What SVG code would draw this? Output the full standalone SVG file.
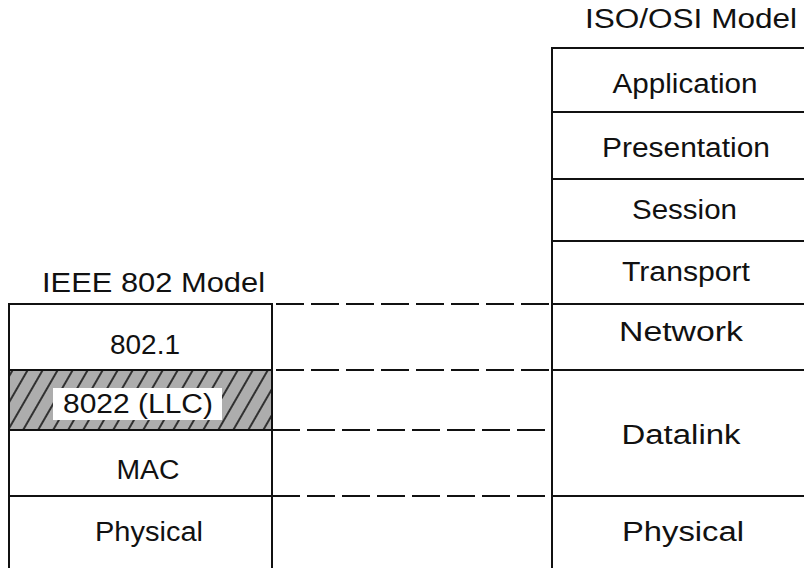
<svg xmlns="http://www.w3.org/2000/svg" width="804" height="568" viewBox="0 0 804 568">
  <style>
    text { font-family: "Liberation Sans", Arial, Helvetica, sans-serif; font-size: 27px; fill: #111; text-anchor: middle; }
    .box { stroke: #111; stroke-width: 2; fill: none; }
    .dash { stroke: #111; stroke-width: 2.2; stroke-dasharray: 28 7; fill: none; }
  </style>
  <defs>
    <pattern id="hatch" patternUnits="userSpaceOnUse" width="13" height="14" patternTransform="rotate(30)">
      <rect width="13" height="14" fill="#adadad"/>
      <line x1="1" y1="0" x2="1" y2="14" stroke="#111" stroke-width="1.6"/>
    </pattern>
  </defs>
  <rect width="804" height="568" fill="#fff"/>

  <g id="titles">
    <text x="691" y="28" textLength="212" lengthAdjust="spacingAndGlyphs">ISO/OSI Model</text>
    <text x="153.5" y="292" textLength="223" lengthAdjust="spacingAndGlyphs">IEEE 802 Model</text>
  </g>

  <g id="osi">
    <path class="box" d="M552,568 V48 H804 M552,112 H804 M552,179 H804 M552,241 H804 M552,304 H804 M552,370 H804 M552,496 H804"/>
    <g id="osi-application"><text x="685" y="93" textLength="145" lengthAdjust="spacingAndGlyphs">Application</text></g>
    <g id="osi-presentation"><text x="686" y="157" textLength="168" lengthAdjust="spacingAndGlyphs">Presentation</text></g>
    <g id="osi-session"><text x="684.5" y="219" textLength="105" lengthAdjust="spacingAndGlyphs">Session</text></g>
    <g id="osi-transport"><text x="686" y="281" textLength="128" lengthAdjust="spacingAndGlyphs">Transport</text></g>
    <g id="osi-network"><text x="681" y="341" textLength="124" lengthAdjust="spacingAndGlyphs">Network</text></g>
    <g id="osi-datalink"><text x="681" y="444" textLength="119" lengthAdjust="spacingAndGlyphs">Datalink</text></g>
    <g id="osi-physical"><text x="683" y="541" textLength="122" lengthAdjust="spacingAndGlyphs">Physical</text></g>
  </g>

  <g id="ieee">
    <g id="ieee-llc">
      <rect x="9" y="370" width="263" height="60" fill="url(#hatch)"/>
      <rect x="53" y="388" width="169" height="32" fill="#fff"/>
      <text x="138" y="413" textLength="150" lengthAdjust="spacingAndGlyphs">8022 (LLC)</text>
    </g>
    <path class="box" d="M9,568 V304 H272 V568 M9,370 H272 M9,430 H272 M9,496 H272"/>
    <g id="ieee-8021"><text x="145" y="354" textLength="70" lengthAdjust="spacingAndGlyphs">802.1</text></g>
    <g id="ieee-mac"><text x="148" y="479" textLength="63" lengthAdjust="spacingAndGlyphs">MAC</text></g>
    <g id="ieee-physical"><text x="149" y="541" textLength="108" lengthAdjust="spacingAndGlyphs">Physical</text></g>
  </g>

  <g id="connectors">
    <line class="dash" x1="276" y1="304" x2="552" y2="304"/>
    <line class="dash" x1="276" y1="370" x2="552" y2="370"/>
    <line class="dash" x1="272" y1="430" x2="547" y2="430"/>
    <line class="dash" x1="272" y1="496" x2="547" y2="496"/>
  </g>
</svg>
